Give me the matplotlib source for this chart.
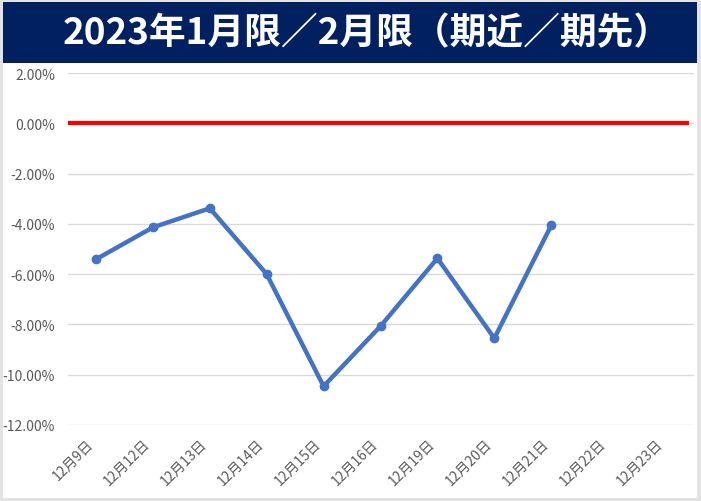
"""Chart: 2023年1月限／2月限（期近／期先） spread, Dec 9 – Dec 23."""

import matplotlib

matplotlib.use("Agg")
import matplotlib.pyplot as plt  # noqa: E402
import matplotlib.transforms as mtransforms  # noqa: E402
from matplotlib.patches import Rectangle  # noqa: E402
from matplotlib.ticker import FuncFormatter, MultipleLocator  # noqa: E402

plt.rcParams["font.family"] = ["Noto Sans CJK JP", "DejaVu Sans"]

title = "2023年1月限／2月限（期近／期先）"
dates = ["12月9日", "12月12日", "12月13日", "12月14日", "12月15日", "12月16日",
         "12月19日", "12月20日", "12月21日", "12月22日", "12月23日"]
spread = [-5.41, -4.14, -3.38, -6.00, -10.46, -8.07, -5.37, -8.55, -4.06]

W, H = 701, 502
fig = plt.figure(figsize=(W / 100, H / 100), dpi=100, facecolor="#e3e3e3")

# white card + navy title band (behind the axes)
fig.patches.append(Rectangle((3 / W, 3 / H), 694 / W, 496 / H, transform=fig.transFigure,
                             facecolor="white", edgecolor="none", zorder=-2))
fig.patches.append(Rectangle((3 / W, 1 - 64 / H), 694 / W, 61 / H, transform=fig.transFigure,
                             facecolor="#002060", edgecolor="none", zorder=-1))
fig.text(367 / W, 1 - 34 / H, title, color="white", fontsize=26.5, fontweight="bold",
         ha="center", va="center")

ax = fig.add_axes([67.5 / W, 1 - 426 / H, 626 / W, 352 / H])
ax.patch.set_alpha(0)
x = list(range(len(dates)))

ax.axhline(0, color="#ff0000", lw=3, zorder=3, xmin=0.0, xmax=0.99)
ax.plot(x[:len(spread)], spread, "o-", color="#4472c4", lw=3.2, ms=6, zorder=4)

ax.set_xlim(-0.5, len(dates) - 0.5)
ax.set_ylim(-12, 2)
ax.yaxis.set_major_locator(MultipleLocator(2))
ax.yaxis.set_major_formatter(FuncFormatter(lambda v, _: f"{v:.2f}%"))
ax.grid(axis="y", color="#d9d9d9", lw=1)
ax.set_axisbelow(True)
for s in ax.spines.values():
    s.set_visible(False)
ax.tick_params(axis="both", length=0, colors="#595959", labelsize=10)
ax.tick_params(axis="y", pad=9)
ax.set_xticks(x)
ax.set_xticklabels(dates, rotation=45, ha="right", rotation_mode="anchor")
ax.tick_params(axis="x", pad=8)
shift = mtransforms.ScaledTranslation(-7 / 72, 0, fig.dpi_scale_trans)
for lbl in ax.get_xticklabels():
    lbl.set_transform(lbl.get_transform() + shift)

fig.savefig("out.png", dpi=100, facecolor=fig.get_facecolor())
